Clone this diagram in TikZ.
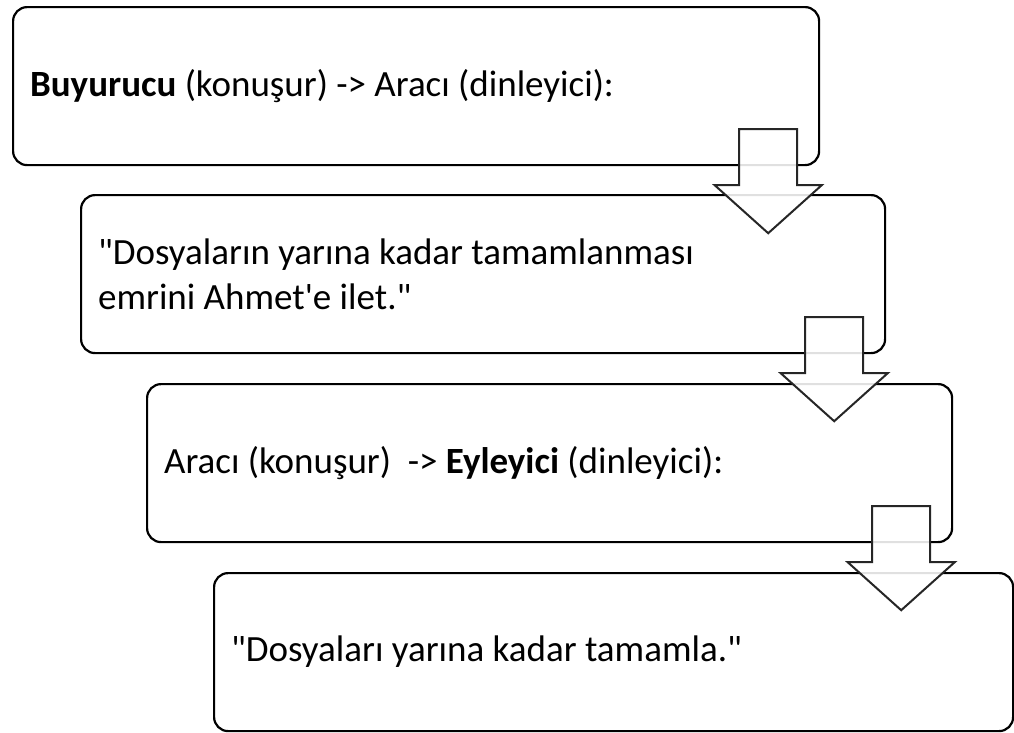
\documentclass[tikz,border=0pt]{standalone}
\usepackage{fontspec}
\setmainfont{Carlito}[Ligatures=TeXOff]
\usetikzlibrary{calc}
\tikzset{
  stepbox/.style={draw=black, line width=2.2pt, rounded corners=14pt, fill=white,
    minimum height=158pt, inner xsep=17pt, inner ysep=0pt, align=flush left,
    anchor=north west, font=\fontsize{37}{45}\selectfont},
  downarrow/.style={draw=black!85, line width=2pt, fill=white, fill opacity=0.88,
    line join=miter},
}
\begin{document}
\begin{tikzpicture}[x=1pt,y=-1pt]
\useasboundingbox (0,0) rectangle (1014,732);

% the four message boxes, stepping down to the right
\node[stepbox, text width=772pt] (b1) at (12,6)
  {\textbf{Buyurucu} (konuşur) -> Aracı (dinleyici):};
\node[stepbox, text width=770pt] (b2) at (80,194)
  {"Dosyaların yarına kadar tamamlanması\\emrini Ahmet'e ilet."};
\node[stepbox, text width=771pt] (b3) at (146,383)
  {Aracı (konuşur)\ \ -> \textbf{Eyleyici} (dinleyici):};
\node[stepbox, text width=765pt] (b4) at (213,572)
  {"Dosyaları yarına kadar tamamla."};

% block arrows linking each box to the next
\foreach \i in {1,2,3} {
  \coordinate (t\i) at ($(b\i.south east)+(-52,0)$);
  \draw[downarrow] ($(t\i)+(-29,-37)$) -- ($(t\i)+(29,-37)$) -- ($(t\i)+(29,19)$)
    -- ($(t\i)+(53.5,19)$) -- ($(t\i)+(0,67)$) -- ($(t\i)+(-53.5,19)$)
    -- ($(t\i)+(-29,19)$) -- cycle;
}
\end{tikzpicture}
\end{document}
